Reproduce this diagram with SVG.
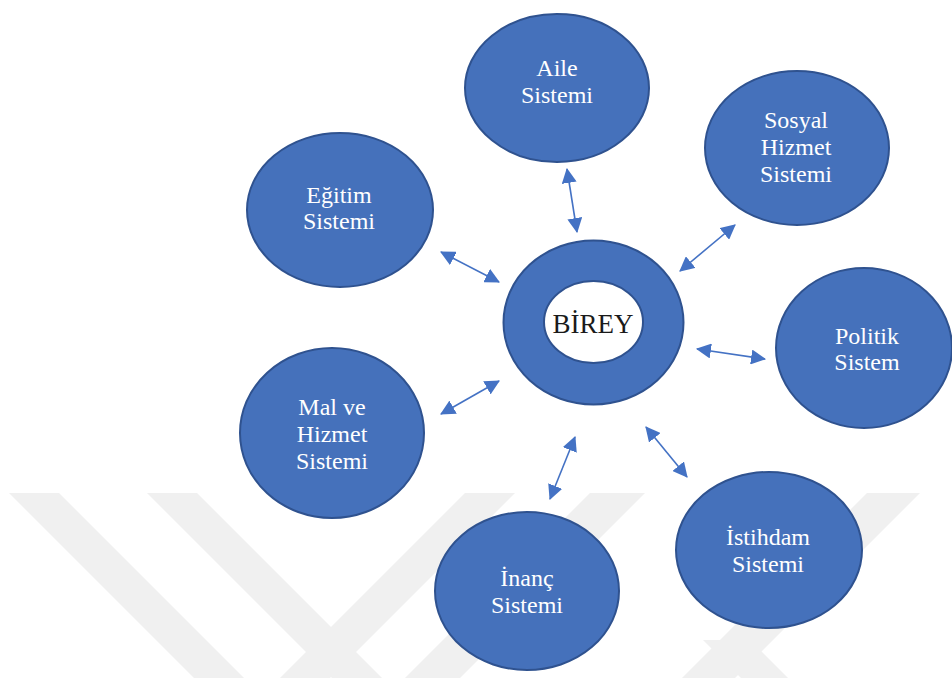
<svg xmlns="http://www.w3.org/2000/svg" width="952" height="678" viewBox="0 0 952 678">
<style>
.node{fill:#4571BB;stroke:#2F528F;stroke-width:2}
.lbl{font-family:"Liberation Serif","Times New Roman",serif;font-size:24px;fill:#ffffff;text-anchor:middle}
.wm{fill:#f0f0f0}
.conn line{stroke:#4472C4;stroke-width:1.6;marker-start:url(#ah);marker-end:url(#ah)}
</style>
<defs>
<marker id="ah" viewBox="0 0 14 14" refX="13" refY="7" markerWidth="15" markerHeight="15" markerUnits="userSpaceOnUse" orient="auto-start-reverse">
<path d="M0,0 L14,7 L0,14 z" fill="#4472C4"/>
</marker>
</defs>
<rect width="952" height="678" fill="#ffffff"/>
<g id="watermark">
<polygon class="wm" points="9,493 59,493 244,678 194,678"/>
<polygon class="wm" points="147,493 197,493 382,678 332,678"/>
<polygon class="wm" points="465,493 515,493 330,678 280,678"/>
<polygon class="wm" points="590,493 645,493 460,678 405,678"/>
<polygon class="wm" points="867,493 920,493 735,678 682,678"/>
<polygon class="wm" points="703,640 750,640 788,678 741,678"/>
</g>
<g id="connectors" class="conn">
<line x1="567" y1="169" x2="577" y2="232"/>
<line x1="441" y1="252" x2="499" y2="282"/>
<line x1="735" y1="225" x2="680" y2="271"/>
<line x1="697" y1="349" x2="765" y2="359"/>
<line x1="441" y1="414" x2="499" y2="381"/>
<line x1="575" y1="437" x2="550" y2="499"/>
<line x1="646" y1="427" x2="687" y2="477"/>
</g>
<g id="birey">
<ellipse class="node" cx="593.5" cy="322.5" rx="90" ry="82"/>
<ellipse cx="593.5" cy="322" rx="49.5" ry="41" fill="#ffffff" stroke="#2F528F" stroke-width="2"/>
<text x="593" y="333" font-family="'Liberation Serif','Times New Roman',serif" font-size="27" fill="#1a1a1a" text-anchor="middle">BİREY</text>
</g>
<g id="aile">
<ellipse class="node" cx="557" cy="88" rx="92" ry="74"/>
<text class="lbl" x="557" y="76">Aile</text>
<text class="lbl" x="557" y="103">Sistemi</text>
</g>
<g id="egitim">
<ellipse class="node" cx="340" cy="210" rx="93" ry="77"/>
<text class="lbl" x="339" y="203">Eğitim</text>
<text class="lbl" x="339" y="229">Sistemi</text>
</g>
<g id="sosyal">
<ellipse class="node" cx="797" cy="148" rx="92" ry="77"/>
<text class="lbl" x="796" y="128">Sosyal</text>
<text class="lbl" x="796" y="155">Hizmet</text>
<text class="lbl" x="796" y="182">Sistemi</text>
</g>
<g id="politik">
<ellipse class="node" cx="864" cy="348" rx="88" ry="80"/>
<text class="lbl" x="867" y="344">Politik</text>
<text class="lbl" x="867" y="370">Sistem</text>
</g>
<g id="mal">
<ellipse class="node" cx="332" cy="433" rx="92" ry="85"/>
<text class="lbl" x="332" y="415">Mal ve</text>
<text class="lbl" x="332" y="442">Hizmet</text>
<text class="lbl" x="332" y="469">Sistemi</text>
</g>
<g id="inanc">
<ellipse class="node" cx="527" cy="591" rx="92" ry="79"/>
<text class="lbl" x="527" y="586">İnanç</text>
<text class="lbl" x="527" y="613">Sistemi</text>
</g>
<g id="istihdam">
<ellipse class="node" cx="769" cy="550" rx="93" ry="78"/>
<text class="lbl" x="768" y="545">İstihdam</text>
<text class="lbl" x="768" y="572">Sistemi</text>
</g>
</svg>
